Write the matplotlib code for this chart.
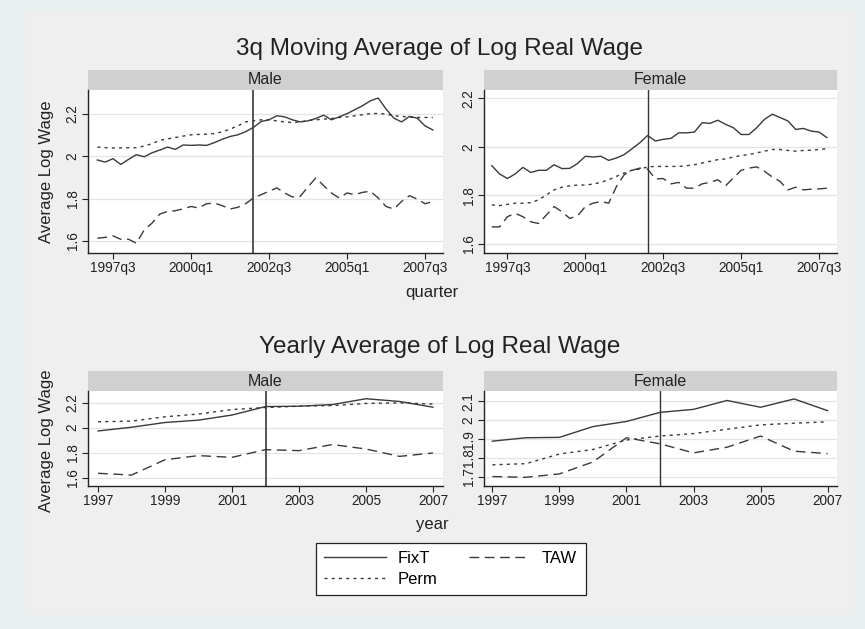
#!/usr/bin/env python3
"""
Moving-average and yearly log real wage by contract type (FixT / TAW / Perm),
split by Male / Female, Stata-style panels.
"""

import matplotlib.pyplot as plt
from matplotlib.patches import Rectangle
from matplotlib.lines import Line2D
import numpy as np

plt.rcParams.update({
    'font.family': ['Liberation Sans', 'DejaVu Sans'],
    'font.size': 12,
    'figure.dpi': 100,
})

# ---- quarterly data (3q moving average), 1997q1 .. 2007q4 ----
quarters = [f'{y}q{q}' for y in range(1997, 2008) for q in range(1, 5)]
q_ticks = ['1997q3', '2000q1', '2002q3', '2005q1', '2007q3']
q_break = '2002q1'

male_fixt_q = [1.983, 1.973, 1.989, 1.962, 1.986, 2.008, 1.998, 2.017, 2.030, 2.044,
               2.033, 2.054, 2.052, 2.054, 2.052, 2.065, 2.081, 2.094, 2.102, 2.117,
               2.137, 2.165, 2.173, 2.192, 2.187, 2.173, 2.163, 2.168, 2.179, 2.195,
               2.173, 2.187, 2.202, 2.221, 2.240, 2.263, 2.276, 2.224, 2.181, 2.163,
               2.189, 2.181, 2.144, 2.125]
male_perm_q = [2.044, 2.041, 2.040, 2.040, 2.041, 2.041, 2.049, 2.060, 2.076, 2.083,
               2.089, 2.096, 2.102, 2.104, 2.105, 2.108, 2.116, 2.129, 2.144, 2.163,
               2.168, 2.173, 2.173, 2.168, 2.163, 2.160, 2.163, 2.170, 2.173, 2.176,
               2.179, 2.184, 2.187, 2.192, 2.197, 2.202, 2.203, 2.200, 2.192, 2.189,
               2.186, 2.184, 2.184, 2.184]
male_taw_q = [1.613, 1.617, 1.624, 1.608, 1.608, 1.589, 1.652, 1.684, 1.727, 1.740,
              1.743, 1.752, 1.763, 1.756, 1.776, 1.779, 1.767, 1.751, 1.759, 1.776,
              1.803, 1.819, 1.835, 1.851, 1.827, 1.808, 1.811, 1.856, 1.898, 1.862,
              1.827, 1.803, 1.827, 1.819, 1.830, 1.835, 1.803, 1.763, 1.751, 1.787,
              1.814, 1.798, 1.776, 1.787]

female_fixt_q = [1.922, 1.888, 1.869, 1.888, 1.915, 1.894, 1.903, 1.903, 1.926, 1.910,
                 1.911, 1.931, 1.961, 1.958, 1.961, 1.944, 1.954, 1.968, 1.992, 2.017,
                 2.047, 2.024, 2.031, 2.035, 2.058, 2.058, 2.061, 2.100, 2.097, 2.110,
                 2.093, 2.079, 2.051, 2.051, 2.079, 2.114, 2.135, 2.121, 2.107, 2.072,
                 2.076, 2.065, 2.061, 2.038]
female_perm_q = [1.760, 1.757, 1.762, 1.767, 1.767, 1.769, 1.781, 1.801, 1.822, 1.833,
                 1.839, 1.842, 1.842, 1.846, 1.853, 1.864, 1.878, 1.892, 1.903, 1.908,
                 1.917, 1.919, 1.919, 1.919, 1.919, 1.922, 1.926, 1.933, 1.940, 1.947,
                 1.950, 1.958, 1.964, 1.968, 1.975, 1.982, 1.989, 1.989, 1.985, 1.982,
                 1.985, 1.986, 1.989, 1.992]
female_taw_q = [1.669, 1.669, 1.711, 1.725, 1.711, 1.690, 1.683, 1.718, 1.753, 1.732,
                1.704, 1.714, 1.753, 1.767, 1.774, 1.767, 1.836, 1.885, 1.903, 1.912,
                1.908, 1.867, 1.869, 1.847, 1.853, 1.829, 1.829, 1.847, 1.853, 1.864,
                1.839, 1.871, 1.903, 1.912, 1.917, 1.899, 1.875, 1.857, 1.822, 1.833,
                1.822, 1.825, 1.826, 1.829]

# ---- yearly data ----
years = [1997, 1998, 1999, 2000, 2001, 2002, 2003, 2004, 2005, 2006, 2007]
y_ticks = [1997, 1999, 2001, 2003, 2005, 2007]
y_break = 2002

male_fixt_y = [1.974, 2.004, 2.042, 2.061, 2.102, 2.170, 2.173, 2.186, 2.233, 2.211, 2.165]
male_perm_y = [2.048, 2.053, 2.088, 2.110, 2.146, 2.162, 2.173, 2.178, 2.195, 2.200, 2.190]
male_taw_y = [1.634, 1.620, 1.743, 1.776, 1.762, 1.824, 1.816, 1.865, 1.829, 1.770, 1.797]

female_fixt_y = [1.889, 1.907, 1.909, 1.966, 1.993, 2.041, 2.057, 2.104, 2.068, 2.112, 2.050]
female_perm_y = [1.764, 1.770, 1.821, 1.845, 1.895, 1.916, 1.929, 1.952, 1.975, 1.984, 1.991]
female_taw_y = [1.702, 1.698, 1.716, 1.779, 1.907, 1.875, 1.827, 1.857, 1.916, 1.836, 1.823]

# ---- style ----
LINE_COL = '#3a3a3a'
TXT = '#222222'
STYLES = {
    'FixT': dict(linestyle='-', linewidth=1.0, color=LINE_COL),
    'TAW': dict(linestyle=(0, (7, 4)), linewidth=1.0, color=LINE_COL),
    'Perm': dict(linestyle=(0, (2.2, 3)), linewidth=1.0, color=LINE_COL),
}
W, H = 865, 629

fig = plt.figure(figsize=(W / 100, H / 100))
fig.patch.set_facecolor('#e9f0f0')
fig.patches.append(Rectangle((25 / W, 1 - 615 / H), 830 / W, 602 / H,
                             transform=fig.transFigure, facecolor='#efefef',
                             edgecolor='none', zorder=-10))


def px_axes(x0, x1, y0, y1):
    """Axes from pixel box (top-left origin)."""
    return fig.add_axes([x0 / W, 1 - y1 / H, (x1 - x0) / W, (y1 - y0) / H])


def strip(x0, x1, y0, y1, label):
    fig.patches.append(Rectangle((x0 / W, 1 - y1 / H), (x1 - x0) / W, (y1 - y0) / H,
                                 transform=fig.transFigure, facecolor='#d0d0d0',
                                 edgecolor='none', zorder=-5))
    fig.text((x0 + x1) / 2 / W, 1 - (y0 + y1) / 2 / H, label, ha='center',
             va='center', fontsize=11.5, color=TXT)


def style_axes(ax, yticks, ylim):
    ax.set_facecolor('white')
    for s in ['top', 'right']:
        ax.spines[s].set_visible(False)
    for s in ['left', 'bottom']:
        ax.spines[s].set_color(TXT)
        ax.spines[s].set_linewidth(1.0)
    ax.set_ylim(*ylim)
    ax.set_yticks(yticks)
    ax.set_yticklabels([f'{v:g}' for v in yticks], rotation=90, va='center')
    ax.yaxis.grid(True, color='#e4e4e4', linewidth=0.9)
    ax.set_axisbelow(True)
    ax.tick_params(axis='both', labelsize=9.8, colors=TXT, length=4, width=0.8)
    ax.tick_params(axis='y', pad=2)
    ax.tick_params(axis='x', pad=2)


def draw(ax, x, fixt, perm, taw, brk, brk_style):
    ax.axvline(brk, **brk_style, zorder=1)
    ax.plot(x, fixt, **STYLES['FixT'], zorder=3)
    ax.plot(x, perm, **STYLES['Perm'], zorder=3)
    ax.plot(x, taw, **STYLES['TAW'], zorder=3)


male_brk = dict(color='#555555', linewidth=1.4)
female_brk = dict(color='#333333', linewidth=1.0)

qx = np.arange(len(quarters))
qtick_pos = [quarters.index(t) for t in q_ticks]
qbrk = quarters.index(q_break)

# ---- top row: quarterly ----
ax1 = px_axes(88, 443, 90, 253)
draw(ax1, qx, male_fixt_q, male_perm_q, male_taw_q, qbrk, male_brk)
style_axes(ax1, [1.6, 1.8, 2.0, 2.2], (1.543, 2.314))
ax1.set_xlim(-1.2, 44.3)
ax1.set_xticks(qtick_pos)
ax1.set_xticklabels(q_ticks)
strip(88, 443, 70, 90, 'Male')

ax2 = px_axes(484, 837, 90, 253)
draw(ax2, qx, female_fixt_q, female_perm_q, female_taw_q, qbrk, female_brk)
style_axes(ax2, [1.6, 1.8, 2.0, 2.2], (1.561, 2.235))
ax2.set_xlim(-1.0, 44.3)
ax2.set_xticks(qtick_pos)
ax2.set_xticklabels(q_ticks)
strip(484, 837, 70, 90, 'Female')

# ---- bottom row: yearly ----
ax3 = px_axes(88, 443, 391, 486)
draw(ax3, years, male_fixt_y, male_perm_y, male_taw_y, y_break, male_brk)
style_axes(ax3, [1.6, 1.8, 2.0, 2.2], (1.532, 2.295))
ax3.set_xlim(1996.7, 2007.3)
ax3.set_xticks(y_ticks)
strip(88, 443, 371, 391, 'Male')

ax4 = px_axes(484, 837, 391, 486)
draw(ax4, years, female_fixt_y, female_perm_y, female_taw_y, y_break, female_brk)
style_axes(ax4, [1.7, 1.8, 1.9, 2.0, 2.1], (1.652, 2.154))
ax4.set_xlim(1996.75, 2007.28)
ax4.set_xticks(y_ticks)
strip(484, 837, 371, 391, 'Female')

# ---- text ----
fig.text(440 / W, 1 - 49 / H, '3q Moving Average of Log Real Wage', ha='center',
         va='center', fontsize=17.5, color=TXT)
fig.text(440 / W, 1 - 347 / H, 'Yearly Average of Log Real Wage', ha='center',
         va='center', fontsize=17.5, color=TXT)
fig.text(432 / W, 1 - 292 / H, 'quarter', ha='center', va='center', fontsize=12,
         color=TXT)
fig.text(432 / W, 1 - 525 / H, 'year', ha='center', va='center', fontsize=12,
         color=TXT)
fig.text(47 / W, 1 - 172 / H, 'Average Log Wage', ha='center', va='center',
         rotation=90, fontsize=12, color=TXT)
fig.text(47 / W, 1 - 441 / H, 'Average Log Wage', ha='center', va='center',
         rotation=90, fontsize=12, color=TXT)

# ---- legend ----
handles = [Line2D([], [], **STYLES['FixT']),
           Line2D([], [], **STYLES['Perm']),
           Line2D([], [], **STYLES['TAW'])]
leg = fig.legend(handles, ['FixT', 'Perm', 'TAW'], ncol=2,
                 loc='center', bbox_to_anchor=(450.5 / W, 1 - 569 / H),
                 fontsize=12, handlelength=3.7, handletextpad=0.7,
                 columnspacing=1.9, frameon=True, fancybox=False,
                 borderpad=0.5, labelspacing=0.35)
leg.get_frame().set_edgecolor(TXT)
leg.get_frame().set_linewidth(0.9)
leg.get_frame().set_facecolor('white')
leg.get_frame().set_alpha(1)

fig.savefig('out.png', dpi=100, facecolor=fig.get_facecolor())
